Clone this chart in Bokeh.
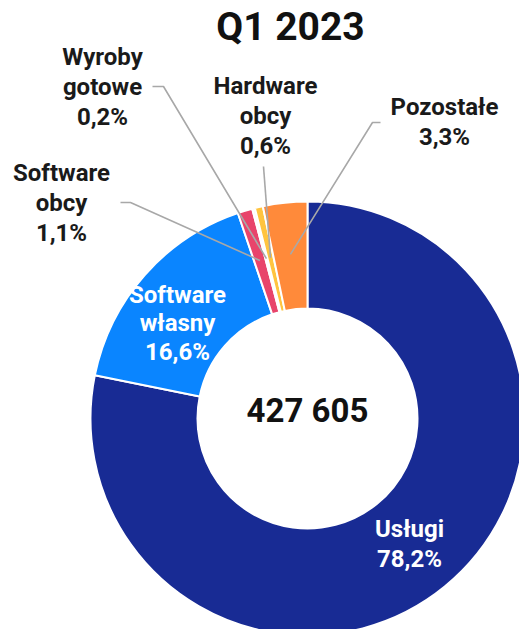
import math
from bokeh.plotting import figure
from bokeh.models import Range1d
from bokeh.core.properties import value
from bokeh.embed import file_html
from bokeh.resources import INLINE

# ---- data ----
title = "Q1 2023"
total_label = "427 605"
categories = ["Usługi", "Software własny", "Software obcy", "Wyroby gotowe", "Hardware obcy", "Pozostałe"]
label_lines = [["Usługi"], ["Software", "własny"], ["Software", "obcy"], ["Wyroby", "gotowe"], ["Hardware", "obcy"], ["Pozostałe"]]
shares = [78.2, 16.6, 1.1, 0.2, 0.6, 3.3]
colors = ["#182B94", "#0A85FF", "#E8446B", "#F7F7F7", "#FFC43F", "#FF8A3A"]

W, H = 519, 629
FONT = "Roboto"
BASE_FIX = 0.4  # em offset applied to alphabetic baseline placement

def Y(py):
    return H - py

p = figure(width=W, height=H, x_range=Range1d(0, W), y_range=Range1d(0, H),
           x_axis_type=None, y_axis_type=None, toolbar_location=None,
           output_backend="svg", min_border=0)
p.grid.visible = False
p.outline_line_color = None
p.background_fill_color = "white"
p.border_fill_color = "white"

cx, cy = 307, Y(418)
r_out, r_in = 217, 110

total = sum(shares)
starts, ends, mids = [], [], []
acc = 0.0
for s in shares:
    a0 = math.pi / 2 - 2 * math.pi * acc / total
    a1 = math.pi / 2 - 2 * math.pi * (acc + s) / total
    starts.append(a0)
    ends.append(a1)
    mids.append((a0 + a1) / 2)
    acc += s

p.annular_wedge(x=[cx] * len(shares), y=[cy] * len(shares), inner_radius=r_in, outer_radius=r_out,
                start_angle=starts, end_angle=ends, direction="clock",
                fill_color=colors, line_color="white", line_width=2)

def pct(v):
    return f"{v:.1f}".replace(".", ",") + "%"

# leader lines for outside labels (index -> label-side points)
leader = {
    2: [(120, 202), (130, 202)],
    3: [(152, 86), (163, 86)],
    4: [(263, 166)],
    5: [(380, 122), (372, 122)],
}
r_lead = 165
for i, pts in leader.items():
    ex = cx + r_lead * math.cos(mids[i])
    ey = cy + r_lead * math.sin(mids[i])
    xs = [q[0] for q in pts] + [ex]
    ys = [Y(q[1]) for q in pts] + [ey]
    p.line(xs, ys, line_color="#A8A8A8", line_width=1.6)

def put(xs, baselines, texts, size, color):
    ys = [Y(b - BASE_FIX * size) for b in baselines]
    p.text(x=xs, y=ys, text=texts, text_align="center", text_baseline="alphabetic",
           text_font=value(FONT), text_font_style="bold", text_font_size=f"{size}px",
           text_color=color)

# label placement: (center x, first baseline, line step, color)
place = {
    0: (409, 538, 30, "white"),
    1: (177, 304, 28.5, "white"),
    2: (61, 182, 30, "#1A1A1A"),
    3: (102, 66, 30, "#1A1A1A"),
    4: (265, 95, 30, "#1A1A1A"),
    5: (444, 116, 30, "#1A1A1A"),
}
for i, (lx, by, step, col) in place.items():
    lines = label_lines[i] + [pct(shares[i])]
    put([lx] * len(lines), [by + k * step for k in range(len(lines))], lines, 24, col)

put([290], [42], [title], 39, "#111111")
put([cx], [423], [total_label], 33, "#111111")

open("out.html", "w").write(file_html(p, INLINE))
